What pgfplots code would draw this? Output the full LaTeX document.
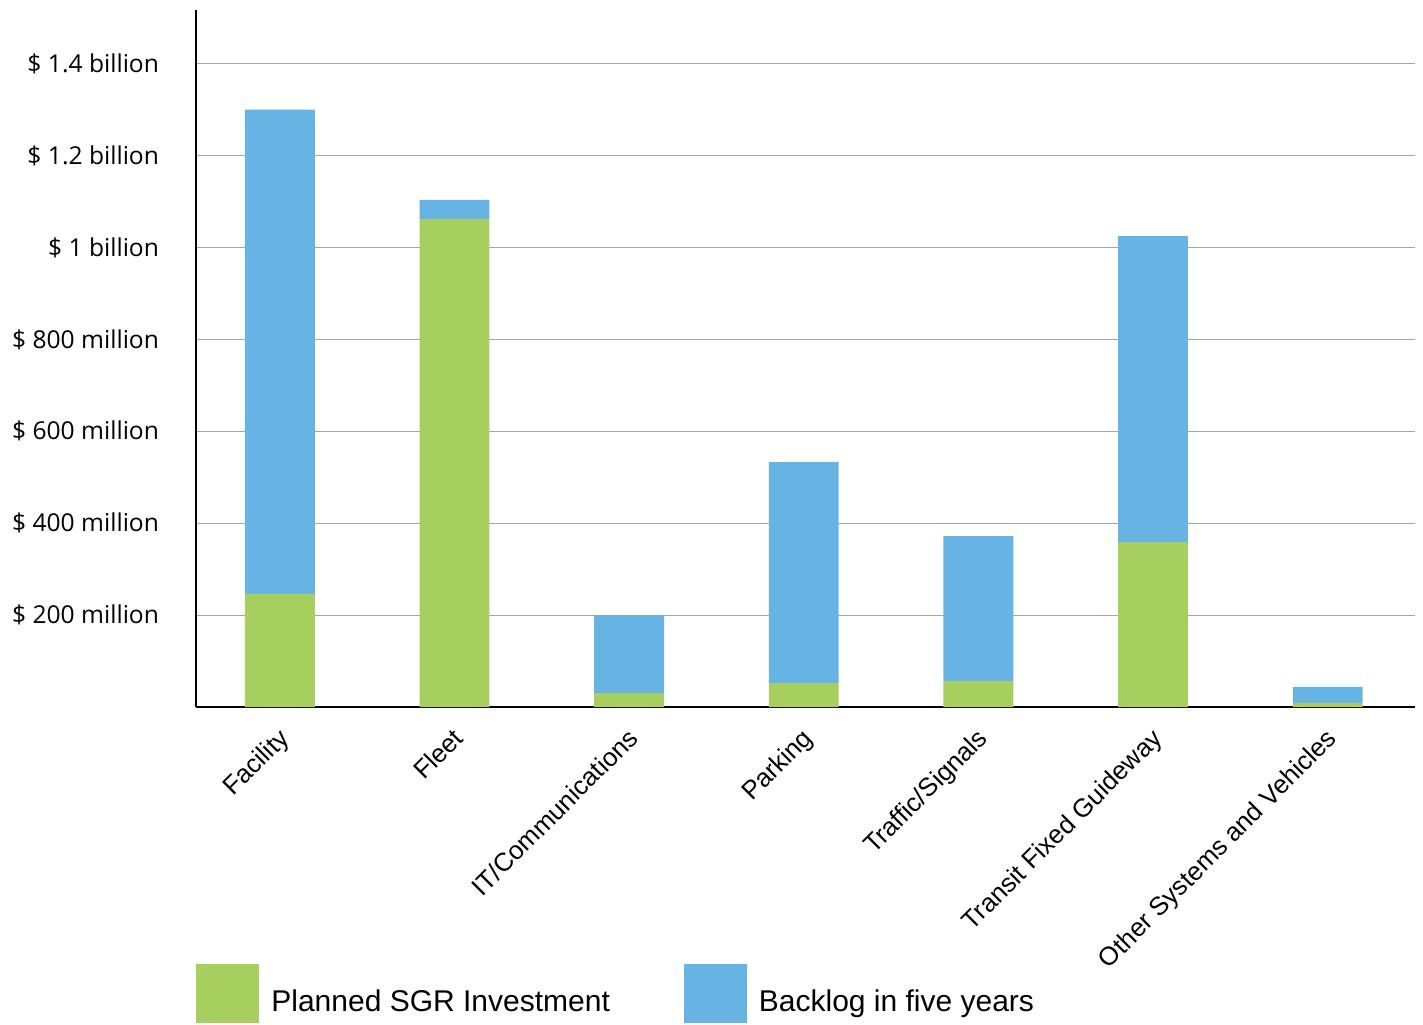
\documentclass[border=0pt]{standalone}
\usepackage{fontspec}
\setmainfont{Liberation Sans}
\newfontfamily\ysans{Open Sans}
\usepackage{pgfplots}
\pgfplotsset{compat=1.18}

\definecolor{sgrgreen}{HTML}{A6CF5F}
\definecolor{backblue}{HTML}{67B3E3}

\begin{document}
\begin{tikzpicture}
\begin{axis}[
    name=ax,
    scale only axis,
    width=609.5pt, height=348.5pt,
    ybar stacked,
    bar width=0.4,
    xmin=-0.48, xmax=6.5,
    ymin=0, ymax=1517,
    axis x line*=bottom,
    axis y line*=left,
    axis line style={line width=1pt, black},
    major tick length=0pt,
    xtick={0,...,6},
    xticklabels={Facility, Fleet, IT/Communications, Parking, Traffic/Signals, Transit Fixed Guideway, Other Systems and Vehicles},
    xticklabel style={rotate=45, anchor=north east, font=\fontsize{12.9}{15}\selectfont, xshift=-4.5pt, yshift=-2.5pt},
    ytick={200,400,...,1400},
    yticklabels={\$ 200 million, \$ 400 million, \$ 600 million, \$ 800 million, \$ 1 billion, \$ 1.2 billion, \$ 1.4 billion},
    yticklabel style={font=\ysans\fontsize{12.3}{14}\selectfont, xshift=-15pt},
    ymajorgrids,
    grid style={gray!70, line width=0.6pt},
    legend columns=2,
    legend style={at={(0,0)}, anchor=north west, yshift=-128.5pt, draw=none, fill=none,
        inner sep=0pt, font=\fontsize{15}{17}\selectfont,
        /tikz/every odd column/.append style={column sep=4pt},
        /tikz/every even column/.append style={column sep=35pt}},
]
\addplot[fill=sgrgreen, draw=none,
    legend image code/.code={\fill[sgrgreen] (0pt,-10.75pt) rectangle (31.5pt,18.75pt);}]
    coordinates {(0,246) (1,1062) (2,30) (3,52) (4,57) (5,359) (6,9)};
\addlegendentry{Planned SGR Investment}
\addplot[fill=backblue, draw=none,
    legend image code/.code={\fill[backblue] (0pt,-10.75pt) rectangle (31.5pt,18.75pt);}]
    coordinates {(0,1054) (1,42) (2,170) (3,481) (4,315) (5,666) (6,35)};
\addlegendentry{Backlog in five years}
\end{axis}
\path (ax.south west) ++(-98pt,-158.5pt) rectangle ++(711.5pt,512pt);
\end{tikzpicture}
\end{document}
